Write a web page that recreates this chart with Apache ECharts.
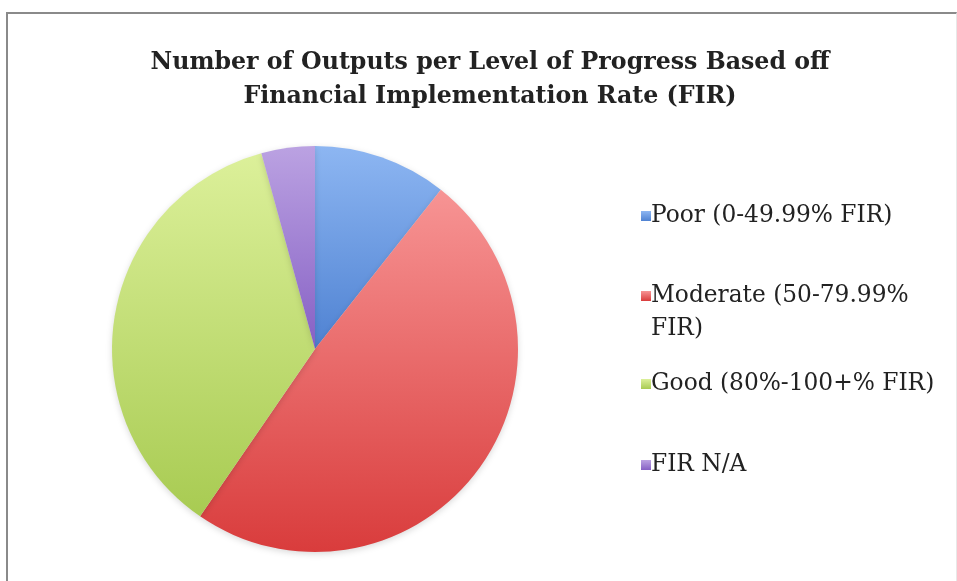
<!DOCTYPE html>
<html>
<head>
<meta charset="utf-8">
<script src="https://cdn.jsdelivr.net/npm/echarts@6/dist/echarts.min.js"></script>
<style>
	html, body { margin: 0; padding: 0; background: #fff; }
	#frame {
		position: absolute;
		left: 6px;
		top: 12px;
		width: 948px;
		height: 580px;
		border-left: 2px solid #8a8a8a;
		border-top: 2px solid #8a8a8a;
		border-right: 1px solid #e8e8e8;
	}
	#chart { position: absolute; left: 0; top: 0; width: 957px; height: 581px; }
</style>
</head>
<body>
<div id="frame"></div>
<div id="chart"></div>
<script>
	// 数据
	const categories = ['Poor (0-49.99% FIR)', 'Moderate (50-79.99% FIR)', 'Good (80%-100+% FIR)', 'FIR N/A']
	const counts = [5, 23, 17, 2]
	const titleText = 'Number of Outputs per Level of Progress Based off\nFinancial Implementation Rate (FIR)'

	// 渐变色 (上浅下深)
	const colorsTop = ['#8db6f2', '#f79494', '#dcf09a', '#bba2e2']
	const colorsBottom = ['#4f82d2', '#d93c3c', '#a8cb52', '#8660c4']

	// 图例每一项的位置 (Excel 的间距不均匀)
	const legendTops = [193, 240, 361, 442]

	const myChart = echarts.init(document.getElementById('chart'))
	myChart.setOption({
		animation: false,
		title: {
			text: titleText,
			left: 485,
			top: 41,
			textAlign: 'center',
			textStyle: {
				fontFamily: 'DejaVu Serif',
				fontWeight: 'bold',
				fontSize: 23.7,
				lineHeight: 34,
				color: '#222'
			}
		},
		legend: categories.map((name, i) => ({
			data: [name],
			orient: 'vertical',
			left: 636,
			top: legendTops[i],
			itemWidth: 10,
			itemHeight: 10,
			itemGap: 0,
			icon: 'rect',
			formatter: function (n) {
				// 两行的那一项: 前面加一个空行, 让图标对齐第一行
				return n === categories[1] ? ' \nModerate (50-79.99%\nFIR)' : n
			},
			textStyle: {
				fontFamily: 'DejaVu Serif',
				fontSize: 23.3,
				lineHeight: 33,
				color: '#222',
				padding: [3, 0, 0, -5]
			}
		})),
		series: [{
			type: 'pie',
			center: [315, 349],
			radius: 203,
			startAngle: 90,
			clockwise: true,
			label: { show: false },
			labelLine: { show: false },
			itemStyle: {
				shadowBlur: 6,
				shadowColor: 'rgba(0,0,0,0.15)',
				shadowOffsetY: 2
			},
			data: counts.map((v, i) => ({
				name: categories[i],
				value: v,
				itemStyle: {
					color: new echarts.graphic.LinearGradient(0, 0, 0, 1, [
						{ offset: 0, color: colorsTop[i] },
						{ offset: 1, color: colorsBottom[i] }
					])
				}
			}))
		}]
	})
</script>
</body>
</html>
